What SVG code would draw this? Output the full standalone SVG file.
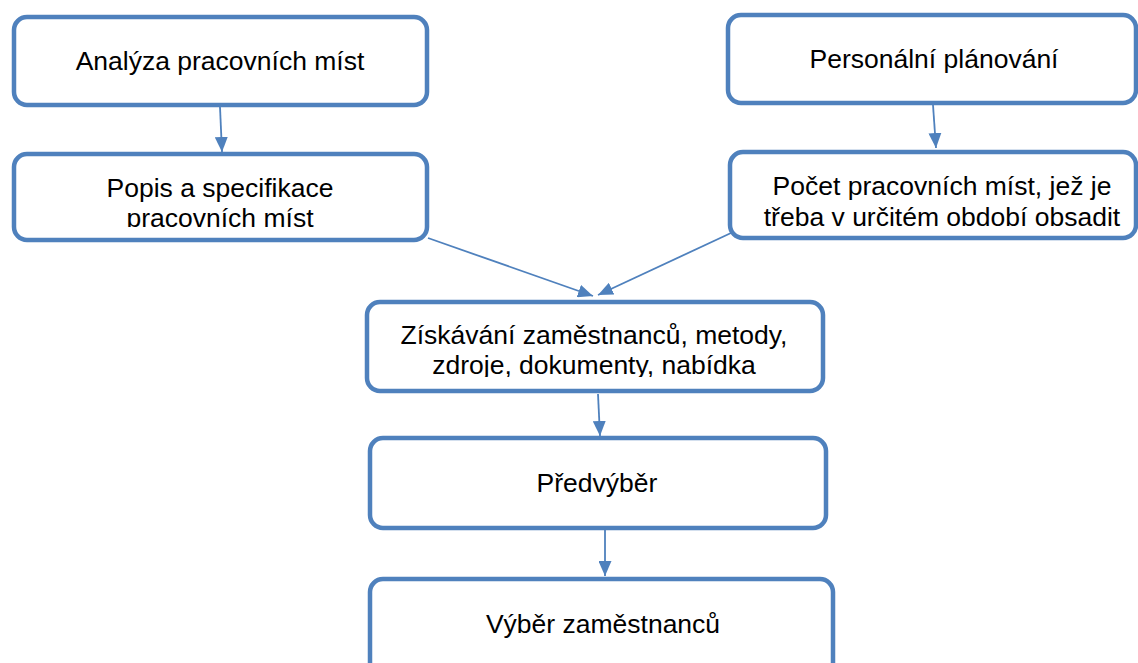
<svg xmlns="http://www.w3.org/2000/svg" width="1138" height="663" viewBox="0 0 1138 663">
<style>
.box{fill:#fff;stroke:#4F81BD;stroke-width:4.5}
.t{font-family:"Liberation Sans",Arial,sans-serif;font-size:26.5px;fill:#000;text-anchor:middle}
.c{stroke:#4F81BD;stroke-width:1.8;fill:none;marker-end:url(#ah)}
</style>
<defs>
<marker id="ah" viewBox="0 0 15 13" refX="15" refY="6.5" markerWidth="15" markerHeight="13" markerUnits="userSpaceOnUse" orient="auto">
<path d="M0,0 L15,6.5 L0,13 z" fill="#4F81BD"/>
</marker>
<clipPath id="cp2"><rect x="0" y="150" width="440" height="77"/></clipPath>
<clipPath id="cp5"><rect x="360" y="295" width="480" height="82"/></clipPath>
</defs>
<rect width="1138" height="663" fill="#fff"/>
<g id="connectors">
<line class="c" x1="220" y1="107" x2="222" y2="152"/>
<line class="c" x1="933" y1="105" x2="936" y2="148"/>
<line class="c" x1="428" y1="238" x2="593" y2="296"/>
<line class="c" x1="731" y1="233" x2="598" y2="295"/>
<line class="c" x1="598" y1="394" x2="600" y2="436"/>
<line class="c" x1="605" y1="530" x2="605" y2="576"/>
</g>
<g id="n1">
<rect class="box" x="14" y="17" width="413" height="88" rx="13"/>
<text class="t" x="220" y="70">Analýza pracovních míst</text>
</g>
<g id="n2">
<rect class="box" x="14" y="154" width="413" height="86" rx="13"/>
<g clip-path="url(#cp2)">
<text class="t" x="220" y="197">Popis a specifikace</text>
<text class="t" x="220" y="227">pracovních míst</text>
</g>
</g>
<g id="n3">
<rect class="box" x="728" y="15" width="408" height="88" rx="13"/>
<text class="t" x="934" y="68">Personální plánování</text>
</g>
<g id="n4">
<rect class="box" x="730" y="152" width="406" height="86" rx="13"/>
<text class="t" x="942" y="195">Počet pracovních míst, jež je</text>
<text class="t" x="942" y="226">třeba v určitém období obsadit</text>
</g>
<g id="n5">
<rect class="box" x="367" y="302" width="456" height="89" rx="13"/>
<g clip-path="url(#cp5)">
<text class="t" x="594" y="344">Získávání zaměstnanců, metody,</text>
<text class="t" x="594" y="374">zdroje, dokumenty, nabídka</text>
</g>
</g>
<g id="n6">
<rect class="box" x="370" y="438" width="456" height="90" rx="13"/>
<text class="t" x="597" y="492">Předvýběr</text>
</g>
<g id="n7">
<rect class="box" x="370" y="579" width="463" height="100" rx="13"/>
<text class="t" x="603" y="633">Výběr zaměstnanců</text>
</g>
</svg>
